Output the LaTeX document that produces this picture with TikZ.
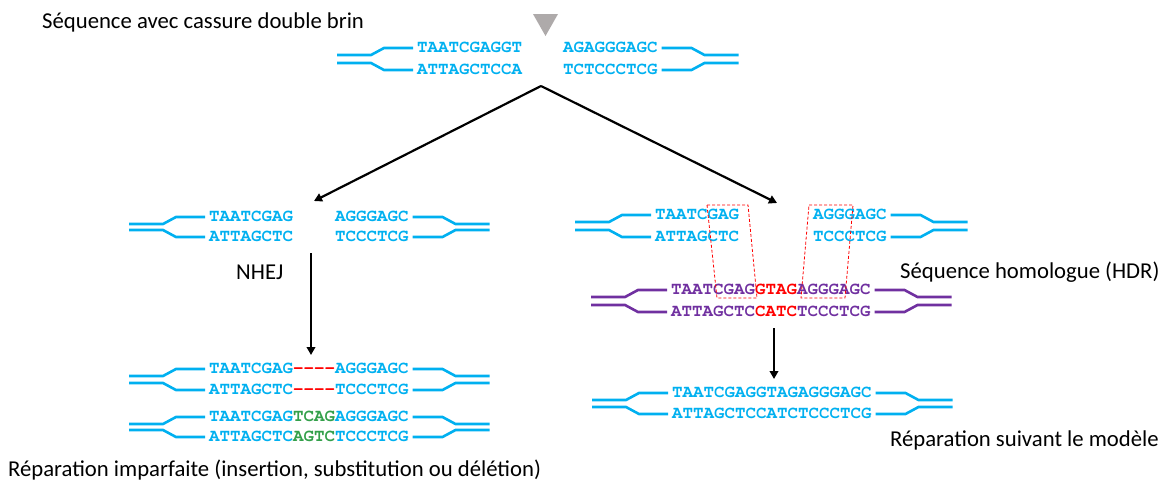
\documentclass[tikz,border=0pt]{standalone}
\usepackage{fontspec}
\setmainfont{Carlito}
\newcommand{\seqfont}{\fontencoding{OT1}\fontfamily{pcr}\selectfont}
\usetikzlibrary{arrows.meta}
\definecolor{dnablue}{HTML}{00B0F0}
\definecolor{dnapurple}{HTML}{7030A0}
\definecolor{mutgreen}{HTML}{33A04A}
\definecolor{cutgray}{HTML}{AEAAAA}
\newcommand{\strandL}[3]{\draw[strand,#3] ([xshift=-4pt]#1.west) -- ++(-29,0) -- ++(-13,#2) -- ++(-34,0);}
\newcommand{\strandR}[3]{\draw[strand,#3] ([xshift=4pt]#1.east) -- ++(30,0) -- ++(13,#2) -- ++(34,0);}
\newcommand{\dnaends}[5]{\strandL{#1}{7}{#5}\strandL{#2}{-7}{#5}\strandR{#3}{7}{#5}\strandR{#4}{-7}{#5}}

\begin{document}
\begin{tikzpicture}[x=1pt,y=-1pt,
    seq/.style={font=\seqfont\bfseries\fontsize{17.5}{20}\selectfont,text=dnablue,inner sep=0pt,outer sep=0pt,anchor=west},
    strand/.style={line width=2.6pt,dnablue},
    lbl/.style={font=\fontsize{22.7}{26}\selectfont,inner sep=0pt,anchor=west},
    arr/.style={-{Triangle[length=8pt,width=8.5pt]},line width=2.2pt},
    homol/.style={red,line width=0.8pt,dash pattern=on 3pt off 2pt}]
\useasboundingbox (0,0) rectangle (1165,488);
% broken sequence
\node[lbl] (title) at (42,22) {Séquence avec cassure double brin};
\fill[cutgray] (533,14) -- (558,14) -- (545.5,36) -- cycle;
\node[seq] (tA) at (417,48) {TAATCGAGGT};
\node[seq] (tB) at (417,70) {ATTAGCTCCA};
\node[seq] (tC) at (563,48) {AGAGGGAGC};
\node[seq] (tD) at (563,70) {TCTCCCTCG};
\dnaends{tA}{tB}{tC}{tD}{dnablue}
\coordinate (split) at (541,86);
\coordinate (toNhej) at (314,201);
\coordinate (toHdr) at (777,203);
\draw[arr] (split) -- (toNhej);
\draw[arr] (split) -- (toHdr);
% NHEJ branch
\node[seq] (nA) at (209,217) {TAATCGAG};
\node[seq] (nB) at (209,237) {ATTAGCTC};
\node[seq] (nC) at (335,217) {AGGGAGC};
\node[seq] (nD) at (335,237) {TCCCTCG};
\dnaends{nA}{nB}{nC}{nD}{dnablue}
\node[lbl] (nhej) at (236,272) {NHEJ};
\coordinate (nhejTop) at (311,253);
\coordinate (nhejEnd) at (311,355);
\draw[arr] (nhejTop) -- (nhejEnd);
\node[seq] (rA) at (209,369) {TAATCGAG{\color{red}-{}-{}-{}-}AGGGAGC};
\node[seq] (rB) at (209,390) {ATTAGCTC{\color{red}-{}-{}-{}-}TCCCTCG};
\dnaends{rA}{rB}{rA}{rB}{dnablue}
\node[seq] (rC) at (209,417) {TAATCGAG{\color{mutgreen}TCAG}AGGGAGC};
\node[seq] (rD) at (209,437) {ATTAGCTC{\color{mutgreen}AGTC}TCCCTCG};
\dnaends{rC}{rD}{rC}{rD}{dnablue}
\node[lbl] (imparf) at (8,470) {Réparation imparfaite (insertion, substitution ou délétion)};
% HDR branch
\node[seq] (hA) at (655,215) {TAATCGAG};
\node[seq] (hB) at (655,237) {ATTAGCTC};
\node[seq] (hC) at (813,215) {AGGGAGC};
\node[seq] (hD) at (813,237) {TCCCTCG};
\dnaends{hA}{hB}{hC}{hD}{dnablue}
\node[seq,text=dnapurple] (pA) at (671,290) {TAATCGAG{\color{red}GTAG}AGGGAGC};
\node[seq,text=dnapurple] (pB) at (671,312) {ATTAGCTC{\color{red}CATC}TCCCTCG};
\dnaends{pA}{pB}{pA}{pB}{dnapurple}
\node[lbl] (homolog) at (900,272) {Séquence homologue (HDR)};
\draw[homol] (707,205) -- (748,205) -- (757,298) -- (717,298) -- cycle;
\draw[homol] (809,205) -- (853,205) -- (845,298) -- (801,298) -- cycle;
\coordinate (hdrTop) at (774,328);
\coordinate (hdrEnd) at (774,379);
\draw[arr] (hdrTop) -- (hdrEnd);
\node[seq] (mA) at (672,393) {TAATCGAGGTAGAGGGAGC};
\node[seq] (mB) at (672,414) {ATTAGCTCCATCTCCCTCG};
\dnaends{mA}{mB}{mA}{mB}{dnablue}
\node[lbl] (modele) at (890,440) {Réparation suivant le modèle};
\end{tikzpicture}
\end{document}
